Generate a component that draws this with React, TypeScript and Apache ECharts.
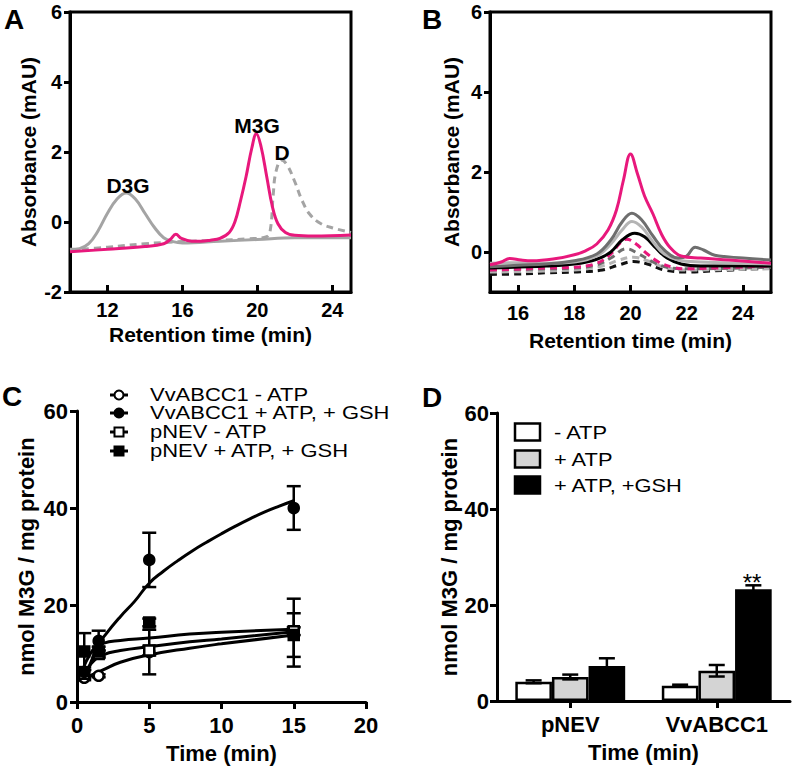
import React, { useEffect, useRef } from 'react';
import * as echarts from 'echarts';

const FONT = '"Liberation Sans", Arial, Helvetica, sans-serif';
const PINK = '#e8187c';
const GRAY = '#a4a4a4';
const DGRAY = '#6e6e6e';
const LGRAY = '#b4b4b4';

// ---------- Panel A (chromatograms of standards) ----------
const aD3G: number[][] = [[10,-0.78],[10.5,-0.76],[11,-0.62],[11.5,-0.25],[12,0.25],[12.5,0.65],[13,0.83],[13.5,0.65],[14,0.25],[14.5,-0.15],[15,-0.45],[15.5,-0.56],[16,-0.6],[18,-0.55],[20,-0.5],[22,-0.45],[25,-0.45]];
const aM3G: number[][] = [[10,-0.85],[12,-0.78],[14,-0.7],[15,-0.62],[15.35,-0.5],[15.65,-0.35],[15.95,-0.47],[16.5,-0.55],[17,-0.55],[17.5,-0.52],[18,-0.47],[18.5,-0.3],[18.8,0.0],[19.1,0.6],[19.4,1.3],[19.7,2.1],[19.95,2.52],[20.2,2.15],[20.5,1.3],[20.8,0.45],[21.1,-0.05],[21.5,-0.3],[22,-0.38],[23,-0.4],[25,-0.37]];
const aD: number[][] = [[10,-0.8],[12,-0.72],[14,-0.62],[16,-0.56],[18,-0.52],[19.5,-0.48],[20.5,-0.42],[20.7,-0.2],[20.85,0.8],[21.0,1.45],[21.3,1.77],[21.6,1.62],[22.0,1.15],[22.4,0.6],[22.8,0.22],[23.4,-0.05],[24.1,-0.18],[25,-0.3]];
const aTicksX = [12, 16, 20, 24];

// ---------- Panel B (transport samples) ----------
const bPinkSolid: number[][] = [[15,-0.32],[15.4,-0.25],[15.7,-0.16],[16.1,-0.2],[16.5,-0.22],[17.3,-0.17],[18,-0.07],[18.4,0.03],[18.8,0.2],[19.2,0.55],[19.5,1.05],[19.75,1.8],[20.0,2.45],[20.25,1.95],[20.5,1.4],[20.8,0.95],[21.1,0.45],[21.4,0.12],[21.8,-0.1],[22.5,-0.15],[23.5,-0.2],[25,-0.28]];
const bDarkGraySolid: number[][] = [[15,-0.37],[16,-0.33],[17,-0.3],[18,-0.22],[18.8,-0.05],[19.3,0.3],[19.7,0.75],[20.05,0.97],[20.4,0.8],[20.8,0.4],[21.2,0.05],[21.7,-0.15],[22.0,-0.1],[22.3,0.12],[22.6,0.05],[23,-0.08],[24,-0.15],[25,-0.2]];
const bLightGraySolid: number[][] = [[15,-0.28],[16,-0.27],[17,-0.28],[18,-0.25],[18.8,-0.1],[19.3,0.2],[19.7,0.55],[20.05,0.76],[20.4,0.62],[20.8,0.25],[21.2,-0.05],[21.7,-0.2],[22.5,-0.25],[25,-0.3]];
const bBlackSolid: number[][] = [[15,-0.4],[17,-0.35],[18,-0.3],[18.8,-0.18],[19.3,0.0],[19.7,0.3],[20.15,0.47],[20.5,0.38],[20.9,0.1],[21.3,-0.15],[21.8,-0.3],[22.5,-0.35],[25,-0.35]];
const bPinkDashed: number[][] = [[15,-0.45],[16,-0.43],[17,-0.4],[18,-0.38],[18.8,-0.28],[19.3,-0.05],[19.6,0.2],[19.86,0.32],[20.2,0.2],[20.6,-0.05],[21,-0.25],[21.5,-0.38],[22,-0.42],[23,-0.4],[25,-0.35]];
const bGrayDashed: number[][] = [[15,-0.45],[17,-0.42],[18,-0.4],[18.8,-0.32],[19.3,-0.15],[19.86,0.08],[20.3,-0.05],[20.8,-0.25],[21.3,-0.38],[22,-0.42],[25,-0.38]];
const bLightGrayDashed: number[][] = [[15,-0.5],[18,-0.45],[19,-0.35],[19.6,-0.2],[20.1,-0.13],[20.6,-0.22],[21.2,-0.38],[22,-0.45],[25,-0.42]];
const bBlackDashed: number[][] = [[15,-0.56],[16,-0.55],[17,-0.52],[18,-0.5],[19,-0.45],[19.6,-0.32],[20.1,-0.24],[20.6,-0.3],[21.2,-0.45],[22,-0.5],[23,-0.47],[25,-0.4]];
const bTicksX = [16, 18, 20, 22, 24];
const bTicksY = [0, 2, 4, 6];

// ---------- Panel C (time course) ----------
const cTimes = [0.5, 1.5, 5, 15];
const cVvMinus = [5.0, 5.4, 10.3, 14.3];
const cVvMinusErr = [0.5, 0.3, 4.6, 7.0];
const cVvPlus = [6.2, 12.6, 29.3, 40.0];
const cVvPlusErr = [1.0, 2.1, 5.6, 4.5];
const cPnevMinus = [5.8, 9.9, 10.6, 14.6];
const cPnevMinusErr = [0.8, 0.8, 1.0, 0.8];
const cPnevPlus = [10.4, 10.4, 16.4, 13.8];
const cPnevPlusErr = [3.8, 1.0, 0.8, 4.5];
const cFitVvPlus: number[][] = [[0.5,4.8],[0.8,7],[1.5,11.8],[2,14],[3,17.6],[4,20.8],[5,24.5],[6,27],[7,29.2],[8,31.2],[9,33],[10,34.7],[11,36.3],[12,37.8],[13,39.2],[14,40.4],[15,41.5]];
const cFitPnevPlus: number[][] = [[0.5,7.5],[0.8,9.3],[1.2,11],[1.8,12.1],[3,12.7],[5,13.2],[7.8,14.0],[10,14.4],[15,15.0]];
const cFitPnevMinus: number[][] = [[0.5,5.5],[1.0,8.0],[1.8,9.7],[3,10.6],[5,11.4],[7.8,12.4],[10,13.0],[15,14.5]];
const cFitVvMinus: number[][] = [[0.5,4.5],[1.0,5.5],[1.8,6.6],[3,8.2],[5,9.7],[7.8,11.1],[10,12.0],[15,13.8]];
const cLegend = ['VvABCC1 - ATP', 'VvABCC1 + ATP, + GSH', 'pNEV - ATP', 'pNEV + ATP, + GSH'];

// ---------- Panel D (bars) ----------
const dGroups = ['pNEV', 'VvABCC1'];
const dMinusATP = [4.0, 3.2];
const dMinusATPErr = [0.3, 0.2];
const dPlusATP = [5.0, 6.3];
const dPlusATPErr = [0.5, 1.2];
const dPlusGSH = [7.3, 23.3];
const dPlusGSHErr = [1.6, 0.8];
const dLegend = ['- ATP', '+ ATP', '+ ATP, +GSH'];

const tickLabel = (size: number) => ({ color: '#000', fontSize: size, fontWeight: 'bold', fontFamily: FONT });
const nameStyle = (size: number) => ({ color: '#000', fontSize: size, fontWeight: 'bold', fontFamily: FONT });
const blackLine = { show: true, onZero: false, lineStyle: { color: '#000', width: 3 } };

function chromLine(data: number[][], color: string, dashed: boolean, idx: number, z = 2) {
  return {
    type: 'line', xAxisIndex: idx, yAxisIndex: idx, data, smooth: 0.4, symbol: 'none', showSymbol: false,
    lineStyle: { color, width: 3, type: dashed ? [7, 5] : 'solid' }, silent: true, z,
  };
}

function fitLine(data: number[][]) {
  return { type: 'line', xAxisIndex: 2, yAxisIndex: 2, data, smooth: 0.5, symbol: 'none', showSymbol: false, lineStyle: { color: '#000', width: 3 }, silent: true, z: 2 };
}

function pointSeries(ys: number[], symbol: string, filled: boolean) {
  return {
    type: 'scatter', xAxisIndex: 2, yAxisIndex: 2, data: cTimes.map((t, i) => [t, ys[i]]), symbol, symbolSize: 10,
    itemStyle: { color: filled ? '#000' : '#fff', borderColor: '#000', borderWidth: 2.5, opacity: 1 }, silent: true, z: 5,
  };
}

function errLines(x: number, yHi: number, yLo: number, w: number) {
  const st = { stroke: '#000', lineWidth: 2.5 };
  return [
    { type: 'line', shape: { x1: x, y1: yHi, x2: x, y2: yLo }, style: st },
    { type: 'line', shape: { x1: x - w, y1: yHi, x2: x + w, y2: yHi }, style: st },
    { type: 'line', shape: { x1: x - w, y1: yLo, x2: x + w, y2: yLo }, style: st },
  ];
}

const cErrData: number[][] = [];
[[cVvMinus, cVvMinusErr], [cVvPlus, cVvPlusErr], [cPnevMinus, cPnevMinusErr], [cPnevPlus, cPnevPlusErr]].forEach(([ys, es]) => {
  cTimes.forEach((t, i) => cErrData.push([t, ys[i], es[i]]));
});

const dErrData: number[][] = [];
[[dMinusATP, dMinusATPErr], [dPlusATP, dPlusATPErr], [dPlusGSH, dPlusGSHErr]].forEach(([vs, es], s) => {
  dGroups.forEach((_, i) => dErrData.push([i, vs[i], es[i], s]));
});

function text(t: string, x: number, y: number, size: number, bold: boolean, align = 'center', scaleX = 1) {
  return {
    type: 'text', x, y, scaleX, silent: true, z: 10,
    style: { text: t, fontSize: size, fontWeight: bold ? 'bold' : 'normal', fontFamily: FONT, fill: '#000', align, verticalAlign: 'middle' },
  };
}

const legendCRows = [395, 413, 432, 451];
const legendCSymbols = [['circle', false], ['circle', true], ['rect', false], ['rect', true]];
const legendDRows = [432, 459, 485];
const legendDFill = ['#fff', '#d4d4d4', '#000'];

const graphics: any[] = [
  text('A', 14, 19, 28, true),
  text('B', 432, 19, 28, true),
  text('C', 12, 396, 28, true),
  text('D', 432, 397, 28, true),
  text('D3G', 128, 185, 21, true),
  text('M3G', 257, 125, 21, true),
  text('D', 282, 152, 21, true),
  text('**', 752, 582, 24, false),
];
legendCRows.forEach((y, i) => {
  const [sym, filled] = legendCSymbols[i] as [string, boolean];
  graphics.push({ type: 'line', silent: true, shape: { x1: 110, y1: y, x2: 128, y2: y }, style: { stroke: '#000', lineWidth: 3 } });
  if (sym === 'circle') {
    graphics.push({ type: 'circle', silent: true, shape: { cx: 119, cy: y, r: 4.5 }, style: { fill: filled ? '#000' : '#fff', stroke: '#000', lineWidth: 2 } });
  } else {
    graphics.push({ type: 'rect', silent: true, shape: { x: 114.5, y: y - 4.5, width: 9, height: 9 }, style: { fill: filled ? '#000' : '#fff', stroke: '#000', lineWidth: 2 } });
  }
  graphics.push(text(cLegend[i], 150, y, 18, false, 'left', 1.22));
});
legendDRows.forEach((y, i) => {
  graphics.push({ type: 'rect', silent: true, shape: { x: 515, y: y - 8.5, width: 25, height: 17 }, style: { fill: legendDFill[i], stroke: '#000', lineWidth: 2.5 } });
  graphics.push(text(dLegend[i], 554, y, 19, false, 'left', 1.15));
});

const option: any = {
  animation: false,
  backgroundColor: '#fff',
  textStyle: { fontFamily: FONT },
  grid: [
    { left: 70, top: 12, width: 281, height: 280, show: true, borderColor: '#000', borderWidth: 3, backgroundColor: 'transparent' },
    { left: 490, top: 12, width: 281, height: 280, show: true, borderColor: '#000', borderWidth: 3, backgroundColor: 'transparent' },
    { left: 77, top: 411, width: 289, height: 291 },
    { left: 497, top: 413, width: 293, height: 288 },
  ],
  xAxis: [
    {
      gridIndex: 0, type: 'value', min: 10, max: 25,
      axisLine: blackLine, splitLine: { show: false },
      axisTick: { show: true, inside: true, length: 7, customValues: aTicksX, lineStyle: { color: '#000', width: 3 } },
      axisLabel: { customValues: aTicksX, margin: 8, ...tickLabel(20) },
      name: 'Retention time (min)', nameLocation: 'middle', nameGap: 32, nameTextStyle: nameStyle(21),
    },
    {
      gridIndex: 1, type: 'value', min: 15, max: 25,
      axisLine: blackLine, splitLine: { show: false },
      axisTick: { show: true, inside: true, length: 7, customValues: bTicksX, lineStyle: { color: '#000', width: 3 } },
      axisLabel: { customValues: bTicksX, margin: 11, ...tickLabel(20) },
      name: 'Retention time (min)', nameLocation: 'middle', nameGap: 38, nameTextStyle: nameStyle(21),
    },
    {
      gridIndex: 2, type: 'value', min: 0, max: 20, interval: 5,
      axisLine: blackLine, splitLine: { show: false },
      axisTick: { show: true, length: 7, lineStyle: { color: '#000', width: 3 } },
      axisLabel: { margin: 12, ...tickLabel(22) },
      name: 'Time (min)', nameLocation: 'middle', nameGap: 40, nameTextStyle: nameStyle(22),
    },
    {
      gridIndex: 3, type: 'category', data: dGroups,
      axisLine: blackLine, splitLine: { show: false },
      axisTick: { show: true, alignWithLabel: true, length: 7, lineStyle: { color: '#000', width: 3 } },
      axisLabel: { margin: 12, ...tickLabel(22) },
      name: 'Time (min)', nameLocation: 'middle', nameGap: 40, nameTextStyle: nameStyle(22),
    },
  ],
  yAxis: [
    {
      gridIndex: 0, type: 'value', min: -2, max: 6, interval: 2,
      axisLine: blackLine, splitLine: { show: false },
      axisTick: { show: true, length: 6, lineStyle: { color: '#000', width: 3 } },
      axisLabel: { margin: 8, ...tickLabel(20) },
      name: 'Absorbance (mAU)', nameLocation: 'middle', nameGap: 31, nameTextStyle: nameStyle(21),
    },
    {
      gridIndex: 1, type: 'value', min: -1, max: 6,
      axisLine: blackLine, splitLine: { show: false },
      axisTick: { show: true, length: 6, customValues: bTicksY, lineStyle: { color: '#000', width: 3 } },
      axisLabel: { customValues: bTicksY, margin: 8, ...tickLabel(20) },
      name: 'Absorbance (mAU)', nameLocation: 'middle', nameGap: 28, nameTextStyle: nameStyle(21),
    },
    {
      gridIndex: 2, type: 'value', min: 0, max: 60, interval: 20,
      axisLine: blackLine, splitLine: { show: false },
      axisTick: { show: true, length: 7, lineStyle: { color: '#000', width: 3 } },
      axisLabel: { margin: 9, ...tickLabel(22) },
      name: 'nmol M3G / mg protein', nameLocation: 'middle', nameGap: 40, nameTextStyle: nameStyle(22),
    },
    {
      gridIndex: 3, type: 'value', min: 0, max: 60, interval: 20,
      axisLine: blackLine, splitLine: { show: false },
      axisTick: { show: true, length: 7, lineStyle: { color: '#000', width: 3 } },
      axisLabel: { margin: 8, ...tickLabel(22) },
      name: 'nmol M3G / mg protein', nameLocation: 'middle', nameGap: 36, nameTextStyle: nameStyle(22),
    },
  ],
  graphic: graphics,
  series: [
    // A
    chromLine(aD3G, GRAY, false, 0, 2),
    chromLine(aD, GRAY, true, 0, 3),
    chromLine(aM3G, PINK, false, 0, 4),
    // B
    chromLine(bBlackDashed, '#111', true, 1, 2),
    chromLine(bLightGrayDashed, LGRAY, true, 1, 2),
    chromLine(bGrayDashed, DGRAY, true, 1, 2),
    chromLine(bPinkDashed, PINK, true, 1, 3),
    chromLine(bBlackSolid, '#000', false, 1, 4),
    chromLine(bLightGraySolid, LGRAY, false, 1, 4),
    chromLine(bDarkGraySolid, DGRAY, false, 1, 4),
    chromLine(bPinkSolid, PINK, false, 1, 5),
    // C
    fitLine(cFitVvPlus),
    fitLine(cFitPnevPlus),
    fitLine(cFitPnevMinus),
    fitLine(cFitVvMinus),
    {
      type: 'custom', xAxisIndex: 2, yAxisIndex: 2, data: cErrData, encode: { x: 0, y: 1 }, silent: true, z: 3,
      renderItem: (_p: any, api: any) => {
        const x = api.value(0), y = api.value(1), e = api.value(2);
        const hi = api.coord([x, y + e]);
        const lo = api.coord([x, y - e]);
        return { type: 'group', children: errLines(hi[0], hi[1], lo[1], 7) };
      },
    },
    pointSeries(cVvMinus, 'circle', false),
    pointSeries(cPnevMinus, 'rect', false),
    pointSeries(cVvPlus, 'circle', true),
    pointSeries(cPnevPlus, 'rect', true),
    // D
    ...[dMinusATP, dPlusATP, dPlusGSH].map((vals, s) => ({
      type: 'bar', xAxisIndex: 3, yAxisIndex: 3, data: vals, barGap: '0%', barCategoryGap: '25%', silent: true, z: 2,
      itemStyle: { color: legendDFill[s], borderColor: '#000', borderWidth: 2.5 },
    })),
    {
      type: 'custom', xAxisIndex: 3, yAxisIndex: 3, data: dErrData, encode: { x: 0, y: 1 }, silent: true, z: 4,
      renderItem: (_p: any, api: any) => {
        const cat = api.value(0), v = api.value(1), e = api.value(2), s = api.value(3);
        const band = api.size([1, 0])[0];
        const bw = band * 0.25;
        const hi = api.coord([cat, v + e]);
        const lo = api.coord([cat, v - e]);
        const x = hi[0] + (s - 1) * bw;
        return { type: 'group', children: errLines(x, hi[1], lo[1], 8) };
      },
    },
  ],
};

export default function App() {
  const ref = useRef<HTMLDivElement>(null);
  useEffect(() => {
    const chart = echarts.init(ref.current as HTMLDivElement, null, { renderer: 'svg' });
    chart.setOption(option);
    return () => chart.dispose();
  }, []);
  return <div ref={ref} style={{ position: 'fixed', left: 0, top: 0, width: 793, height: 769, background: '#fff' }} />;
}
